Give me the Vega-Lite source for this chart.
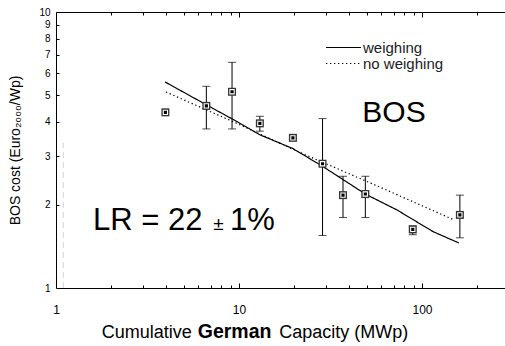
{
  "$schema": "https://vega.github.io/schema/vega-lite/v6.json",
  "width": 449,
  "height": 276,
  "autosize": {"type": "none"},
  "padding": {"left": 56, "top": 12, "right": 0, "bottom": 58},
  "config": {
    "font": "Liberation Sans",
    "view": {"stroke": null},
    "axis": {"grid": false, "domainColor": "black", "tickColor": "black", "labelColor": "black", "titleColor": "black", "domainWidth": 1, "tickWidth": 1}
  },
  "datasets": {
    "points": [
      {"cap": 3.96, "cost": 4.33, "lo": null, "hi": null},
      {"cap": 6.63, "cost": 4.57, "lo": 3.77, "hi": 5.38},
      {"cap": 9.16, "cost": 5.14, "lo": 3.77, "hi": 6.57},
      {"cap": 13.0, "cost": 3.95, "lo": 3.70, "hi": 4.19},
      {"cap": 19.7, "cost": 3.50, "lo": 3.44, "hi": 3.56},
      {"cap": 28.6, "cost": 2.82, "lo": 1.55, "hi": 4.11},
      {"cap": 37.0, "cost": 2.17, "lo": 1.80, "hi": 2.54},
      {"cap": 49.0, "cost": 2.19, "lo": 1.80, "hi": 2.54},
      {"cap": 89.0, "cost": 1.63, "lo": 1.56, "hi": 1.68},
      {"cap": 161, "cost": 1.84, "lo": 1.52, "hi": 2.17}
    ],
    "fits": [
      {"series": "weighing", "cap": 3.94, "cost": 5.58},
      {"series": "weighing", "cap": 6.63, "cost": 4.61},
      {"series": "weighing", "cap": 9.16, "cost": 4.10},
      {"series": "weighing", "cap": 13.0, "cost": 3.59},
      {"series": "weighing", "cap": 19.7, "cost": 3.20},
      {"series": "weighing", "cap": 28.6, "cost": 2.76},
      {"series": "weighing", "cap": 49.0, "cost": 2.19},
      {"series": "weighing", "cap": 72.7, "cost": 1.92},
      {"series": "weighing", "cap": 115, "cost": 1.60},
      {"series": "weighing", "cap": 159, "cost": 1.456},
      {"series": "no weighing", "cap": 3.99, "cost": 5.13},
      {"series": "no weighing", "cap": 9.16, "cost": 4.02},
      {"series": "no weighing", "cap": 21.5, "cost": 3.10},
      {"series": "no weighing", "cap": 58.9, "cost": 2.32},
      {"series": "no weighing", "cap": 151, "cost": 1.76}
    ],
    "artifact": [{"cap": 1.096, "lo": 1.0, "hi": 3.36}]
  },
  "layer": [
    {
      "data": {"name": "artifact"},
      "mark": {"type": "rule", "color": "#d4d4d4", "strokeDash": [6, 4], "strokeWidth": 1},
      "encoding": {
        "x": {"field": "cap", "type": "quantitative", "scale": {"type": "log", "domain": [1, 284], "nice": false},
          "axis": {"orient": "bottom", "values": [1, 10, 100], "ticks": false, "labelPadding": 16, "labelFontSize": 12, "labelFlush": false, "domain": true, "domainColor": "black", "title": null}},
        "y": {"field": "lo", "type": "quantitative", "scale": {"type": "log", "domain": [1, 10], "nice": false},
          "axis": {"orient": "left", "values": [1, 2, 3, 4, 5, 6, 7, 8, 9, 10], "ticks": false, "labelPadding": 6, "labelFontSize": 10, "labelFlush": false, "domain": true, "domainColor": "black",
            "title": "BOS cost (Euro₂₀₀₀/Wp)", "titleFontSize": 14, "titleFontWeight": "normal", "titlePadding": 16}},
        "y2": {"field": "hi"}
      }
    },
    {
      "data": {"name": "points"},
      "mark": {"type": "rule", "color": "black", "strokeWidth": 1},
      "encoding": {
        "x": {"field": "cap", "type": "quantitative",
          "axis": {"orient": "bottom", "values": [2, 3, 4, 5, 6, 7, 8, 9, 20, 30, 40, 50, 60, 70, 80, 90, 200], "tickSize": -3, "labels": false, "domain": false, "title": null}},
        "y": {"field": "lo", "type": "quantitative",
          "axis": {"orient": "left", "values": [2, 3, 4, 5, 6, 7, 8, 9], "tickSize": -3, "labels": false, "domain": false, "title": null}},
        "y2": {"field": "hi"}
      }
    },
    {
      "data": {"name": "points"},
      "mark": {"type": "tick", "orient": "horizontal", "color": "black", "size": 8, "thickness": 1},
      "encoding": {
        "x": {"field": "cap", "type": "quantitative",
          "axis": {"orient": "bottom", "values": [10, 100], "tickSize": -5, "labels": false, "domain": false, "title": null}},
        "y": {"field": "lo", "type": "quantitative",
          "axis": {"orient": "left", "values": [10], "tickSize": -5, "labels": false, "domain": false, "title": null}}
      }
    },
    {
      "data": {"name": "points"},
      "mark": {"type": "tick", "orient": "horizontal", "color": "black", "size": 8, "thickness": 1},
      "encoding": {
        "x": {"field": "cap", "type": "quantitative",
          "axis": {"orient": "top", "values": [2, 3, 4, 5, 6, 7, 8, 9, 20, 30, 40, 50, 60, 70, 80, 90, 200], "tickSize": -3, "labels": false, "domain": true, "domainColor": "black", "title": null}},
        "y": {"field": "hi", "type": "quantitative", "axis": null}
      }
    },
    {
      "data": {"name": "fits"},
      "mark": {"type": "line", "color": "black", "strokeWidth": 1.2},
      "encoding": {
        "x": {"field": "cap", "type": "quantitative",
          "axis": {"orient": "top", "values": [10, 100], "tickSize": -5, "labels": false, "domain": false, "title": null}},
        "y": {"field": "cost", "type": "quantitative", "axis": null},
        "strokeDash": {"field": "series", "type": "nominal",
          "scale": {"domain": ["weighing", "no weighing"], "range": [[1, 0], [1.3, 2.7]]},
          "legend": {"orient": "none", "legendX": 280, "legendY": 28, "title": null, "padding": 0,
            "symbolType": "M-5,0H5", "symbolSize": 49, "symbolStrokeColor": "black", "symbolStrokeWidth": 1.2,
            "labelFontSize": 15, "labelOffset": 12, "labelColor": "#222", "rowPadding": 0}}
      }
    },
    {
      "data": {"name": "points"},
      "mark": {"type": "point", "shape": "square", "filled": true, "color": "#333", "size": 64, "opacity": 1},
      "encoding": {
        "x": {"field": "cap", "type": "quantitative", "axis": null},
        "y": {"field": "cost", "type": "quantitative", "axis": null}
      }
    },
    {
      "data": {"name": "points"},
      "mark": {"type": "point", "shape": "square", "filled": true, "fill": "black", "stroke": "white", "strokeWidth": 1.1, "size": 18, "opacity": 1},
      "encoding": {
        "x": {"field": "cap", "type": "quantitative", "axis": null},
        "y": {"field": "cost", "type": "quantitative", "axis": null}
      }
    },
    {
      "data": {"values": [{}]},
      "mark": {"type": "text", "fontSize": 30, "align": "center", "baseline": "alphabetic", "color": "black", "text": "BOS"},
      "encoding": {
        "x": {"datum": 70.3, "type": "quantitative", "axis": null},
        "y": {"datum": 4.01, "type": "quantitative", "axis": null}
      }
    },
    {
      "data": {"values": [{}]},
      "mark": {"type": "text", "fontSize": 31, "align": "left", "baseline": "alphabetic", "color": "black", "text": "LR = 22"},
      "encoding": {
        "x": {"datum": 1.593, "type": "quantitative", "axis": null},
        "y": {"datum": 1.626, "type": "quantitative", "axis": null}
      }
    },
    {
      "data": {"values": [{}]},
      "mark": {"type": "text", "fontSize": 19, "align": "center", "baseline": "alphabetic", "color": "black", "text": "±"},
      "encoding": {
        "x": {"datum": 7.71, "type": "quantitative", "axis": null},
        "y": {"datum": 1.626, "type": "quantitative", "axis": null}
      }
    },
    {
      "data": {"values": [{}]},
      "mark": {"type": "text", "fontSize": 31, "align": "left", "baseline": "alphabetic", "color": "black", "text": "1%"},
      "encoding": {
        "x": {"datum": 8.93, "type": "quantitative", "axis": null},
        "y": {"datum": 1.626, "type": "quantitative", "axis": null}
      }
    },
    {
      "data": {"values": [{}]},
      "mark": {"type": "text", "fontSize": 18, "align": "left", "baseline": "alphabetic", "color": "black", "text": "Cumulative"},
      "encoding": {
        "x": {"datum": 1.777, "type": "quantitative", "axis": null},
        "y": {"datum": 0.66, "type": "quantitative", "axis": null}
      }
    },
    {
      "data": {"values": [{}]},
      "mark": {"type": "text", "fontSize": 19.5, "fontWeight": "bold", "align": "left", "baseline": "alphabetic", "color": "black", "text": "German"},
      "encoding": {
        "x": {"datum": 5.95, "type": "quantitative", "axis": null},
        "y": {"datum": 0.66, "type": "quantitative", "axis": null}
      }
    },
    {
      "data": {"values": [{}]},
      "mark": {"type": "text", "fontSize": 18, "align": "left", "baseline": "alphabetic", "color": "black", "text": "Capacity (MWp)"},
      "encoding": {
        "x": {"datum": 16.6, "type": "quantitative", "axis": null},
        "y": {"datum": 0.66, "type": "quantitative", "axis": null}
      }
    }
  ],
  "resolve": {"axis": {"x": "independent", "y": "independent"}}
}
